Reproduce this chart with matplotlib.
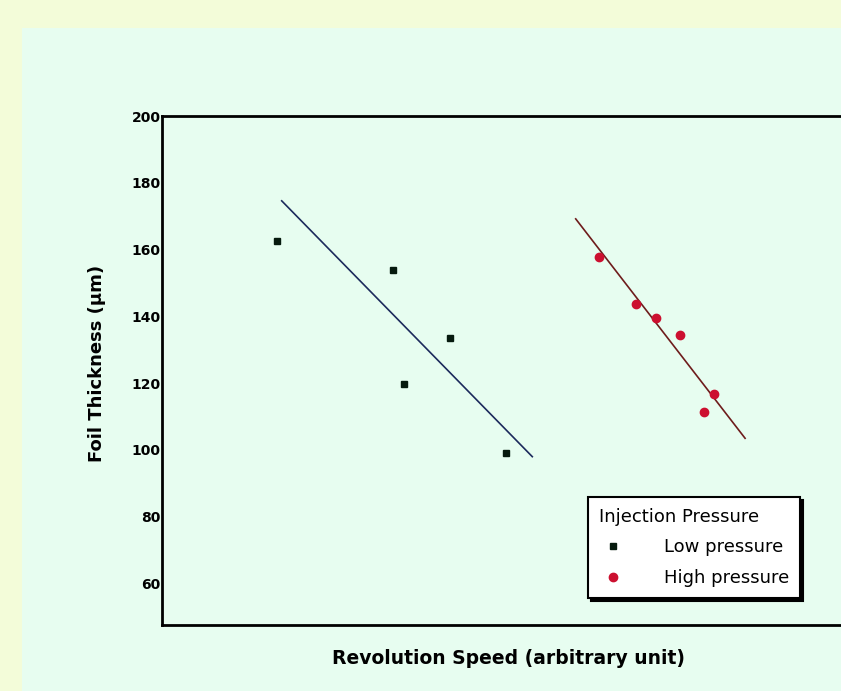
import matplotlib.pyplot as plt
from matplotlib.patches import Rectangle

# données (vitesse en unité arbitraire)
low_x = [1.64, 3.30, 4.11, 3.46, 4.91]
low_y = [162.7, 153.9, 133.6, 119.8, 99.0]
low_fit_x = [1.71, 5.29]
low_fit_y = [174.6, 98.0]

high_x = [6.25, 6.77, 7.06, 7.40, 7.89, 7.74]
high_y = [157.9, 143.6, 139.4, 134.4, 116.7, 111.3]
high_fit_x = [5.91, 8.33]
high_fit_y = [169.2, 103.5]

yticks = [60, 80, 100, 120, 140, 160, 180, 200]

W, H = 841, 691
fig = plt.figure(figsize=(W / 100, H / 100), dpi=100)
fig.patch.set_facecolor('#f3fcd9')
fig.patches.append(Rectangle((22 / W, 0), 1, 1 - 28 / H, transform=fig.transFigure,
                             facecolor='#e7fdf0', edgecolor='none', zorder=-10))

ax = fig.add_axes([162 / W, 1 - 625 / H, (850 - 162) / W, (625 - 116) / H])
ax.set_zorder(1)
ax.set_facecolor('#e7fdf0')
ax.set_xlim(0, (850 - 162) / 70)
ax.set_ylim(47.6, 200)
ax.spines['right'].set_visible(False)
for s in ['left', 'top', 'bottom']:
    ax.spines[s].set_linewidth(2)

ax.plot(low_fit_x, low_fit_y, color='#1c2a5c', lw=1.2)
ax.plot(high_fit_x, high_fit_y, color='#6e1c1c', lw=1.2)
ax.plot(low_x, low_y, 's', color='#061a0e', ms=5, ls='none', label='Low pressure')
ax.plot(high_x, high_y, 'o', color='#cc1030', ms=6, ls='none', label='High pressure')

ax.set_xticks([])
ax.set_yticks(yticks)
ax.tick_params(axis='y', length=0, pad=1, labelsize=10)
for t in ax.get_yticklabels():
    t.set_fontweight('bold')

fig.text(508 / W, 1 - 658 / H, 'Revolution Speed (arbitrary unit)', ha='center', va='center',
         fontsize=13.5, fontweight='bold')
fig.text(97 / W, 1 - 363 / H, 'Foil Thickness (µm)', ha='center', va='center',
         rotation=90, fontsize=13, fontweight='bold')

leg = ax.legend(title='Injection Pressure', loc='upper left', bbox_to_anchor=(588 / W, 1 - 497 / H),
                bbox_transform=fig.transFigure, borderaxespad=0, fancybox=False,
                edgecolor='black', framealpha=1, fontsize=13, title_fontsize=13,
                shadow={'color': 'black', 'alpha': 1}, handletextpad=2.0, handlelength=1.6,
                labelspacing=0.7, borderpad=0.6)
leg._legend_box.align = 'left'
leg.get_frame().set_linewidth(1.5)

fig.savefig('out.png', dpi=100, facecolor=fig.get_facecolor())
